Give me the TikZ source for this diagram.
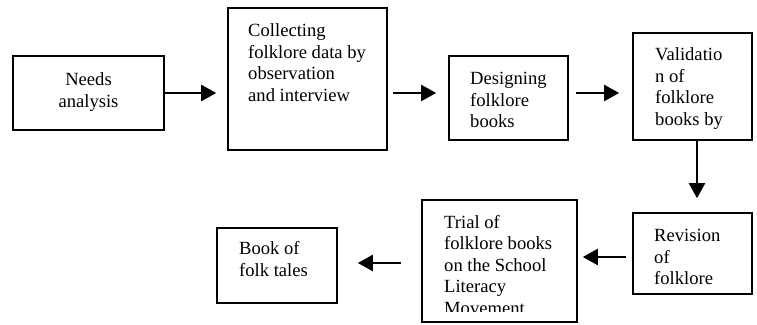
\documentclass[tikz,border=0pt]{standalone}
\usepackage{fontspec}
\setmainfont{Liberation Serif}
\usetikzlibrary{arrows.meta}
\tikzset{
  box/.style={draw, line width=1.6pt, inner sep=0pt},
  txt/.style={inner sep=0pt, anchor=north west, align=left, font=\fontsize{18.6}{21.5}\selectfont},
  arr/.style={line width=2.2pt, -{Triangle[length=15pt,width=16pt]}}
}
\begin{document}
\begin{tikzpicture}[x=1pt,y=-1pt]
\useasboundingbox (0,0) rectangle (757,324);
% boxes
\node[box, minimum width=151pt, minimum height=74pt]  (needs) at (88.5,93) {};
\node[box, minimum width=159pt, minimum height=142pt] (coll)  at (307.5,79) {};
\node[box, minimum width=119pt, minimum height=84pt]  (des)   at (508.5,98) {};
\node[box, minimum width=119pt, minimum height=107pt] (val)   at (692.5,86.5) {};
\node[box, minimum width=119pt, minimum height=81pt]  (rev)   at (692.5,253.5) {};
\node[box, minimum width=155pt, minimum height=122pt] (trial) at (499.5,261) {};
\node[box, minimum width=120pt, minimum height=75pt]  (book)  at (277,265.5) {};
% texts
\node[txt, anchor=north, align=center] (tneeds) at (88.5,70.5) {\strut Needs\\analysis};
\node[txt] (tcoll) at (248,21.5) {\strut Collecting\\folklore data by\\observation\\and interview};
\node[txt] (tdes) at (470,69.5) {\strut Designing\\folklore\\books};
\node[txt] (tval) at (655,45.5) {\strut Validatio\\n of\\folklore\\books by};
\node[txt] (trev) at (654,226.5) {\strut Revision\\of\\folklore};
\begin{scope}
\clip (423,201) rectangle (576,311.7);
\node[txt] (ttrial) at (444,213) {\strut Trial of\\folklore books\\on the School\\Literacy\\Movement};
\end{scope}
\node[txt] (tbook) at (239,239.5) {\strut Book of\\folk tales};
% connectors
\draw[arr, shorten >=11pt] (needs.east) -- (needs.east -| coll.west);
\draw[arr, shorten <=5pt, shorten >=12pt] (coll.east |- needs.east) -- (des.west |- needs.east);
\draw[arr, shorten <=7pt, shorten >=13pt] (des.east |- needs.east) -- (val.west |- needs.east);
\draw[arr, shorten >=14pt] ([xshift=4.5pt]val.south) -- ([xshift=4.5pt]val.south |- rev.north);
\draw[arr, shorten <=6pt, shorten >=5pt] ([yshift=-3.5pt]rev.west) -- ([yshift=-3.5pt]rev.west -| trial.east);
\draw[arr, shorten <=20pt, shorten >=20pt] ([yshift=-2pt]trial.west) -- ([yshift=-2pt]trial.west -| book.east);
\end{tikzpicture}
\end{document}
